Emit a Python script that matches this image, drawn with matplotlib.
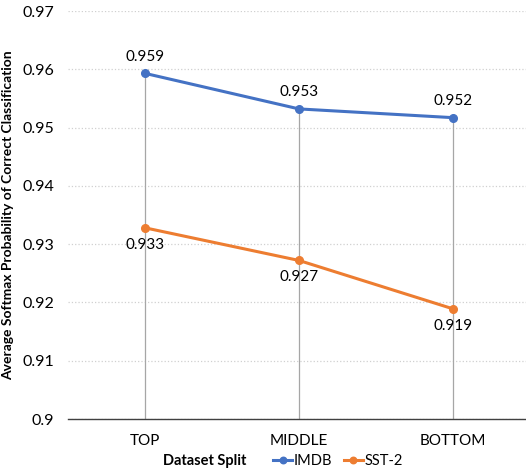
import matplotlib
matplotlib.use('Agg')
import matplotlib.pyplot as plt

plt.rcParams['font.family'] = ['Lato', 'DejaVu Sans']

# 数据
splits = ['TOP', 'MIDDLE', 'BOTTOM']
imdb = [0.9593, 0.9532, 0.9517]
sst2 = [0.9328, 0.9272, 0.9189]
imdb_labels = ['0.959', '0.953', '0.952']
sst2_labels = ['0.933', '0.927', '0.919']
y_ticks = [0.9, 0.91, 0.92, 0.93, 0.94, 0.95, 0.96, 0.97]
y_tick_labels = ['0.9', '0.91', '0.92', '0.93', '0.94', '0.95', '0.96', '0.97']

blue = '#4472C4'
orange = '#ED7D31'

fig = plt.figure(figsize=(5.26, 4.73), dpi=100)
ax = fig.add_axes([68 / 526, 1 - 419 / 473, 1 - 68 / 526, (419 - 11) / 473])

x = list(range(len(splits)))

# 垂直线
for i in x:
    ax.plot([i, i], [0.9, max(imdb[i], sst2[i])], color='#A6A6A6', lw=0.9, zorder=1)

ax.plot(x, imdb, color=blue, lw=2.2, marker='o', ms=5.5, label='IMDB', zorder=3)
ax.plot(x, sst2, color=orange, lw=2.2, marker='o', ms=5.5, label='SST-2', zorder=3)

for i in x:
    ax.annotate(imdb_labels[i], (i, imdb[i]), xytext=(0, 7), textcoords='offset points',
                ha='center', va='bottom', fontsize=11)
    ax.annotate(sst2_labels[i], (i, sst2[i]), xytext=(0, -7), textcoords='offset points',
                ha='center', va='top', fontsize=11)

ax.set_xlim(-0.5, (526 - 145) / 154)
ax.set_ylim(0.9, 0.97)
ax.set_yticks(y_ticks)
ax.set_yticklabels(y_tick_labels, fontsize=11.5)
ax.set_xticks(x)
ax.set_xticklabels(splits, fontsize=11)
ax.tick_params(axis='both', length=0)
ax.tick_params(axis='x', pad=11)
ax.tick_params(axis='y', pad=10)

ax.yaxis.grid(True, color='#D0D0D0', linestyle=':', lw=0.9)
ax.set_axisbelow(True)
for s in ['top', 'right', 'left']:
    ax.spines[s].set_visible(False)
ax.spines['bottom'].set_color('#404040')
ax.spines['bottom'].set_linewidth(1.0)

ax.set_ylabel('Average Softmax Probability of Correct Classification', fontsize=10,
              fontweight='bold', labelpad=6)

fig.text(205 / 526, 1 - 461 / 473, 'Dataset Split', fontsize=10.5, fontweight='bold',
         ha='center', va='center')

leg = fig.legend(loc='center', bbox_to_anchor=(338 / 526, 1 - 461 / 473), ncol=2, frameon=False,
                 fontsize=10.5, handlelength=1.3, handletextpad=0.1, columnspacing=0.8,
                 markerscale=0.85)

fig.savefig('out.png', dpi=100)
